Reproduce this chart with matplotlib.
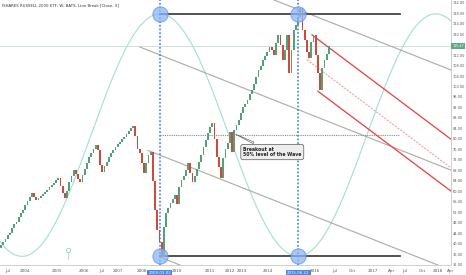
import matplotlib
matplotlib.use('Agg')
import matplotlib.pyplot as plt
import numpy as np

# ---------------- data ----------------
title = "ISHARES RUSSELL 2000 ETF, W, BATS, Line Break [Close, 3]"

# line-break column closes (one per column)
closes = [
    39.5, 40.8, 42.0, 43.5, 44.2, 45.9, 47.5, 48.3, 50.1, 51.6, 53.0, 54.8, 56.2, 57.9, 59.4,
    58.0, 56.7,
    57.5, 58.3, 59.1, 59.8, 60.5, 61.6, 62.4, 63.3, 64.3, 65.1,
    62.0, 59.5, 57.5,
    60.0, 63.5, 66.0, 68.1,
    66.5, 64.8, 63.6,
    66.3, 68.5, 70.8, 73.0, 74.8, 76.3, 77.7,
    75.7, 70.0, 67.4,
    69.5, 71.3, 73.0, 74.6, 75.8, 77.1, 78.2, 79.0, 79.8, 80.7, 81.9, 83.0, 84.0, 84.9,
    81.0, 76.0, 74.6, 71.0, 67.0,
    71.0, 73.9, 75.0,
    64.0, 52.8, 45.2, 40.7, 34.9,
    46.4, 51.7, 53.5, 55.5, 57.0, 58.6,
    55.0,
    61.7, 64.3, 66.0, 68.1, 70.8,
    67.0, 63.6,
    66.0, 68.5, 71.2, 74.0, 76.9, 79.5, 82.3, 84.5, 86.1,
    80.0, 73.1, 69.3, 65.1,
    72.7, 76.0, 78.4, 82.6,
    75.0,
    83.4, 85.5, 87.2, 89.9, 92.2, 93.5, 94.9, 97.0, 98.7, 101.0, 103.7, 106.3, 108.0, 110.1, 111.8, 113.2, 115.1,
    113.9, 112.0,
    116.6, 119.7,
    115.9, 110.1,
    113.9, 119.7,
    105.2,
    114.0, 121.6, 123.5, 126.5, 129.8,
    121.6, 117.8, 113.2, 110.9,
    117.0, 119.7,
    112.0, 105.0, 98.7,
    107.1, 110.0, 112.5, 115.47,
]
first_open = 38.5
last_price = 115.47

xtick_cols = [3.1, 10.9, 25.4, 37.7, 45.9, 53.1, 64.0, 80.0, 95.0, 104.0, 109.5, 121.3,
              142.7, 151.8, 159.5, 169.0, 177.7, 183.6, 191.3, 198.6, 204.3]
xtick_labels = ["Jul", "2004", "2005", "2006", "Jul", "2007", "2008", "2010", "2011", "2012",
                "2013", "2014", "2016", "Jul", "Oct", "2017", "Apr", "Jul", "Oct", "2018", "Apr"]
hl_cols = [72.2, 135.0]
hl_labels = ["2009-03-02", "2015-06-22"]
ytick_vals = list(range(32, 133, 4))

# drawing-tool anchors (column, price)
wave_top, wave_bottom = 127.7, 35.2
wave_peak_col, wave_half = 72.2, 62.7
hline_start, hline_end = 72.2, 181.3
mid_level = 81.5
channel_lines = [  # (col0, price0, col1, price1)
    (63.0, 153.3, 205.4, 106.0),
    (63.0, 115.1, 205.4, 67.8),
    (66.8, 75.6, 205.4, 29.6),
    (72.2, 34.9, 205.4, -9.3),
]
fork_slope = -0.63
fork_top = (141.3, 119.7)
fork_mid = (139.0, 110.2)
fork_bot = (144.0, 98.2)

# ---------------- figure ----------------
fig = plt.figure(figsize=(4.66, 2.75), dpi=100)
ax = fig.add_axes([0, 10 / 275, 451 / 466, 265 / 275])
xmin, xmax = -0.5, 204.5
ax.set_xlim(xmin, xmax)
ax.set_ylim(31.9, 133.0)

# current price line
ax.axhline(last_price, color='#cfe3da', lw=0.7, zorder=1)

# sine wave
xs = np.linspace(xmin, xmax, 600)
mid = (wave_top + wave_bottom) / 2
amp = (wave_top - wave_bottom) / 2
ax.plot(xs, mid + amp * np.cos(np.pi * (xs - wave_peak_col) / wave_half),
        color='#a3dfcf', lw=0.8, zorder=2)

# gray channel lines
for c0, p0, c1, p1 in channel_lines:
    ax.plot([c0, c1], [p0, p1], color='#aaaaaa', lw=0.8, zorder=2)

# 50% dotted level
ax.plot([hline_start, hline_end], [mid_level, mid_level], color='#888888',
        lw=0.8, ls=(0, (1, 1)), zorder=2)

# line break columns
opens = [first_open] + closes[:-1]
for i, (o, c) in enumerate(zip(opens, closes)):
    col = '#53a079' if c >= o else '#d0493a'
    ax.bar(i, c - o, bottom=o, width=0.8, color=col, linewidth=0, zorder=4)

# horizontal black lines
for lvl in (wave_top, wave_bottom):
    ax.plot([hline_start, hline_end], [lvl, lvl], color='#444444', lw=1.3, zorder=3)

# vertical blue dotted lines
for c in hl_cols:
    ax.axvline(c, color='#3d7bf0', lw=1.1, ls=(0, (1.2, 1.2)), zorder=3)

# circles
for c in hl_cols:
    ax.scatter([c, c], [wave_top, wave_bottom], s=120, facecolor='#8db6f5',
               edgecolor='#5b8ff0', linewidth=0.7, alpha=0.75, zorder=5)

# pitchfork
for (c0, p0), colr, ls, lw in [(fork_top, '#f03c3c', '-', 0.9),
                               (fork_mid, '#f6a3a3', (0, (2, 1)), 0.8),
                               (fork_bot, '#f03c3c', '-', 0.9)]:
    ax.plot([c0, xmax], [p0, p0 + fork_slope * (xmax - c0)], color=colr, lw=lw,
            ls=ls, zorder=3)

# callout
ax.annotate("Breakout at\n50% level of the Wave", xy=(105.4, 82.3), xytext=(110.0, 75.0),
            fontsize=3.3, fontweight='bold', color='#222222', ha='left', va='center',
            bbox=dict(boxstyle='round,pad=0.5', fc='#eeeeee', ec='#555555', lw=0.5),
            arrowprops=dict(arrowstyle='wedge,tail_width=0.4', fc='#eeeeee',
                            ec='#555555', lw=0.4), zorder=6)

# small event icon
ax.scatter([30.4], [37.5], s=10, facecolor='white', edgecolor='#8fd4b5', lw=0.6, zorder=5)
ax.plot([30.4, 30.4], [36.3, 34.2], color='#8fd4b5', lw=0.5, zorder=5)

# axes styling
for s in ('top', 'left'):
    ax.spines[s].set_visible(False)
for s in ('right', 'bottom'):
    ax.spines[s].set_color('#c9c9c9')
    ax.spines[s].set_linewidth(0.6)
ax.yaxis.tick_right()
ax.set_yticks(ytick_vals)
ax.set_yticklabels([f"{v:.2f}" for v in ytick_vals])
ax.set_xticks(xtick_cols)
ax.set_xticklabels(xtick_labels)
ax.tick_params(axis='both', labelsize=2.5, colors='#555555', length=0, pad=1.0)
ax.tick_params(axis='x', labelsize=3.0, pad=3)

for c, lab in zip(hl_cols, hl_labels):
    ax.text(c, 31.9 - 2.3, lab, fontsize=2.8, color='white', ha='center', va='top',
            bbox=dict(boxstyle='square,pad=0.3', fc='#4a86e8', ec='none'), clip_on=False, zorder=7)

ax.text(xmax + 0.5, last_price, f"{last_price:.2f}", fontsize=2.4, color='white',
        ha='left', va='center', clip_on=False, zorder=7,
        bbox=dict(boxstyle='square,pad=0.25', fc='#5fa882', ec='none'))

fig.text(2 / 466, 1 - 5 / 275, title, fontsize=2.8, color='#333333', va='center')

fig.savefig('out.png', dpi=100, facecolor='white')
